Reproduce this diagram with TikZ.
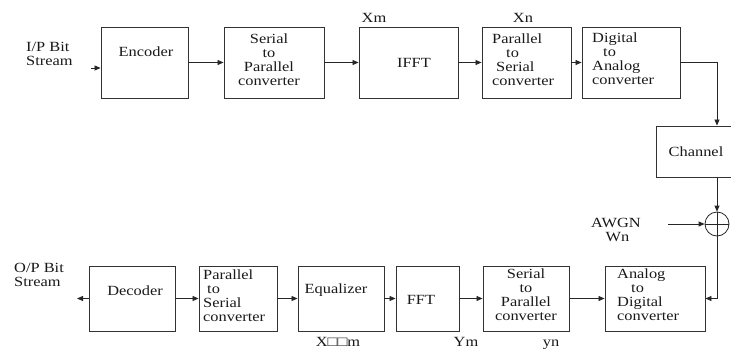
\documentclass[tikz,border=0pt]{standalone}
\usepackage{fontspec}
\setmainfont[FakeStretch=1.17]{Liberation Serif}
\usetikzlibrary{arrows.meta}
\begin{document}
\begin{tikzpicture}[x=1pt,y=-1pt,
  box/.style={draw=black!80, line width=0.9pt, inner sep=0pt},
  txt/.style={font=\fontsize{14}{14}\selectfont, inner sep=0pt, align=center, text=black!90},
  ltxt/.style={txt, align=left, anchor=west},
  btxt/.style={txt, anchor=base},
  arr/.style={draw=black!85, line width=0.8pt, -{Triangle[length=6pt,width=5pt]}},
  ln/.style={draw=black!85, line width=0.8pt}]
\useasboundingbox (0,0) rectangle (731,351);
\clip (0,0) rectangle (731,351);
% top row boxes
\node[box, minimum width=87, minimum height=71] (enc) at (144.5,62.5) {};
\node[box, minimum width=100, minimum height=71] (sp1) at (274,62.5) {};
\node[box, minimum width=99, minimum height=71] (ifft) at (408.5,62.5) {};
\node[box, minimum width=89, minimum height=71] (ps1) at (526.5,62.5) {};
\node[box, minimum width=98, minimum height=71] (da) at (631,62.5) {};
% top row texts
\node[ltxt] (ipT) at (26,54) {I/P Bit\\Stream};
\node[txt] (encT) at (146,52) {Encoder};
\node[txt] (sp1T) at (269,60) {Serial\\to\\Parallel\\converter};
\node[txt] (ifftT) at (414,63) {IFFT};
\node[ltxt] (ps1T) at (492,60) {Parallel\\\hspace*{14pt}to\\\hspace*{4pt}Serial\\converter};
\node[ltxt] (daT) at (592,59) {Digital\\\hspace*{11pt}to\\Analog\\converter};
\node[btxt] (xm) at (374,22) {Xm};
\node[btxt] (xn) at (523,22) {Xn};
% channel and sum
\node[box, minimum width=80, minimum height=51] (ch) at (696,151.5) {};
\node[txt] (chT) at (696,152) {Channel};
\node[draw=black!85, line width=0.8pt, circle, minimum size=24pt, inner sep=0pt] (sum) at (717,224) {};
\draw[ln] (sum.north) -- (sum.south) (sum.west) -- (sum.east);
\node[txt] (awgn) at (616,230) {AWGN\\\hspace*{3pt}Wn};
\coordinate (awgnin) at (668,224);
% bottom row boxes
\node[box, minimum width=86, minimum height=65] (dec) at (132,298.5) {};
\node[box, minimum width=78, minimum height=65] (ps2) at (238,298.5) {};
\node[box, minimum width=86, minimum height=65] (eq) at (341,298.5) {};
\node[box, minimum width=63, minimum height=65] (fft) at (427.5,298.5) {};
\node[box, minimum width=86, minimum height=65] (sp2) at (526,298.5) {};
\node[box, minimum width=100, minimum height=65] (ad) at (655,298.5) {};
% bottom row texts
\node[ltxt] (opT) at (14,275) {O/P Bit\\Stream};
\node[txt] (decT) at (135,291) {Decoder};
\node[ltxt] (ps2T) at (203,296) {Parallel\\\hspace*{4pt}to\\Serial\\converter};
\node[txt] (eqT) at (336,290) {Equalizer};
\node[txt] (fftT) at (421,300) {FFT};
\node[txt] (sp2T) at (526,295) {Serial\\to\\Parallel\\converter};
\node[ltxt] (adT) at (617,295) {Analog\\\hspace*{14pt}to\\Digital\\converter};
\node[btxt] (xmm) at (338,346) {X□□m};
\node[btxt] (ym) at (466,346) {Ym};
\node[btxt] (yn) at (551,346) {yn};
% connectors top
\coordinate (ipin) at (91,68);
\draw[arr] (ipin) -- (ipin -| enc.west);
\draw[arr] (enc.east) -- (sp1.west);
\draw[arr] (sp1.east) -- (ifft.west);
\draw[arr] (ifft.east) -- (ps1.west);
\draw[arr] (ps1.east) -- (da.west);
\draw[arr] (da.east) -| (ch.north -| sum);
\draw[arr] (ch.south -| sum) -- (sum.north);
\draw[arr] (awgnin) -- (sum.west);
\draw[arr] (sum.south) |- (ad.east);
% connectors bottom
\coordinate (opout) at (77,298.5);
\draw[arr] (dec.west) -- (opout);
\draw[arr] (dec.east) -- (ps2.west);
\draw[arr] (ps2.east) -- (eq.west);
\draw[arr] (eq.east) -- (fft.west);
\draw[arr] (fft.east) -- (sp2.west);
\draw[arr] (sp2.east) -- (ad.west);
\end{tikzpicture}
\end{document}
